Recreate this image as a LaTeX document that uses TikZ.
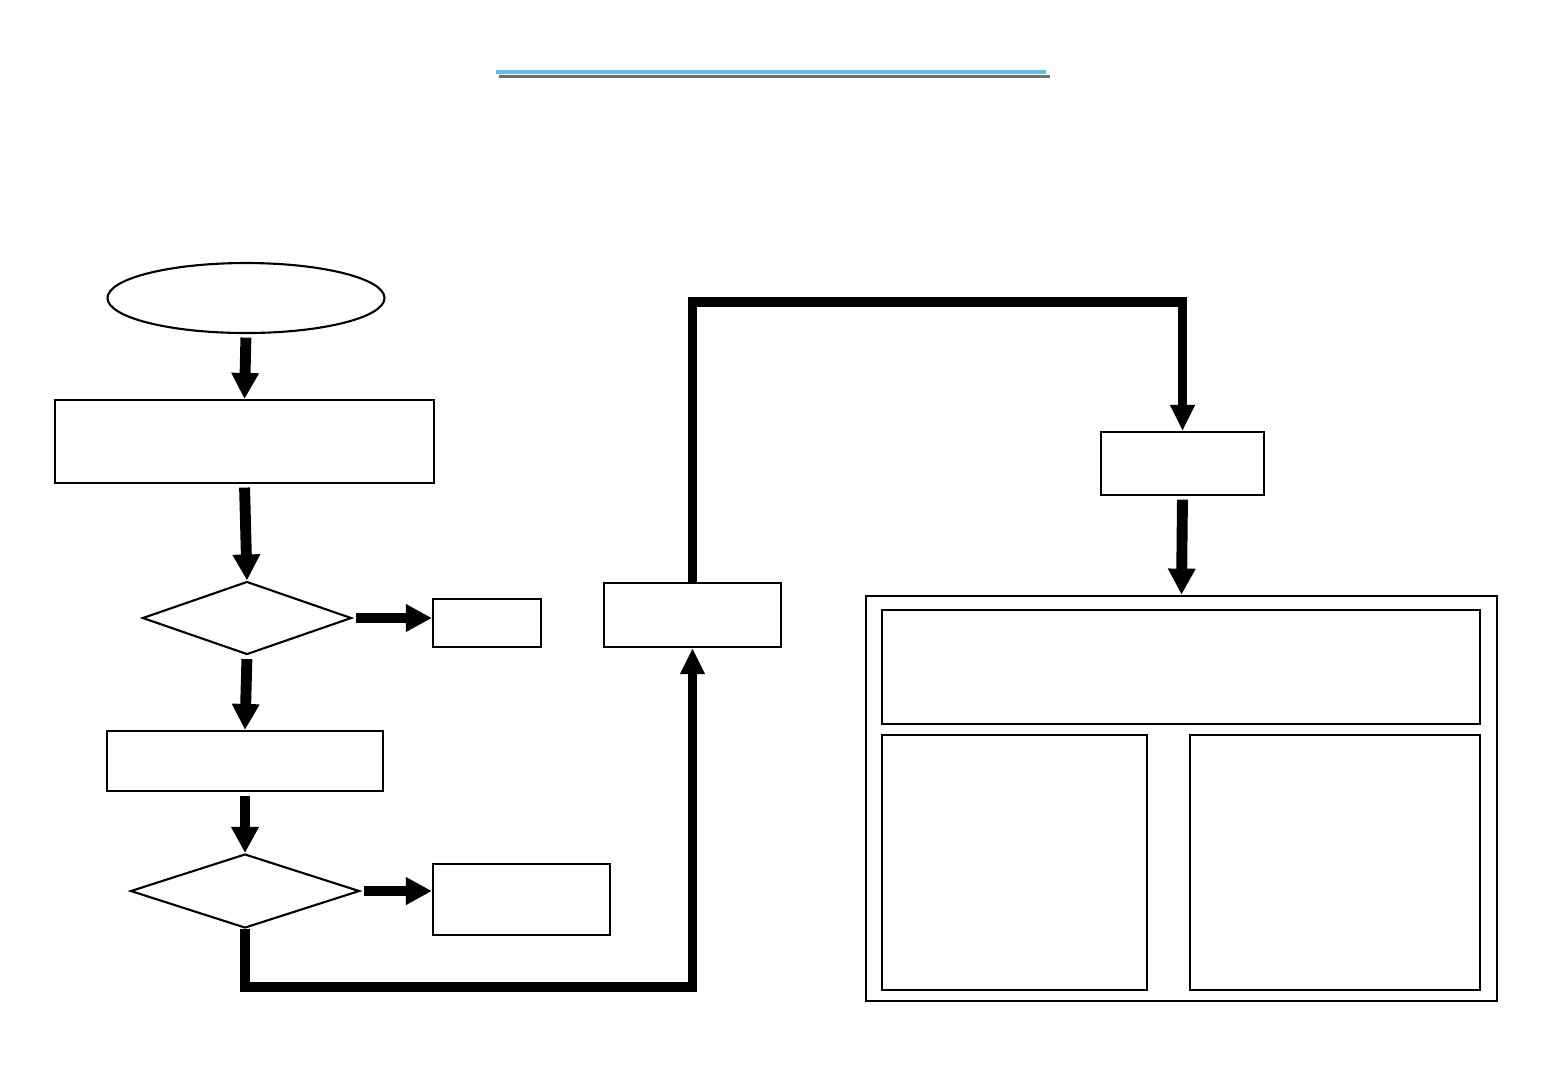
\documentclass[tikz,border=0pt]{standalone}
\usetikzlibrary{arrows.meta,shapes.geometric}
\tikzset{>=Stealth,box/.style={draw,line width=.6pt,inner sep=0pt},frame/.style={draw,line width=.8pt,inner sep=0pt},
decision/.style={diamond,draw,line width=.6pt,inner sep=0pt},flow/.style={line width=3.1pt,shorten <=1pt,-{Triangle[length=7.4pt,width=7.4pt]}},
route/.style={line width=2.8pt,-{Triangle[length=7.4pt,width=6.6pt]}}}
\definecolor{barblue}{RGB}{90,190,240}\definecolor{bargray}{RGB}{110,110,110}

\begin{document}
\begin{tikzpicture}[x=.1mm,y=-.1mm]
\useasboundingbox (0,0) rectangle (1560,1080);
\draw[bargray,line width=1.1pt] (499,76.5)--(1050,76.5);\draw[barblue,line width=1.1pt] (496,72)--(1046,72);
\node[ellipse,draw,line width=.6pt,inner sep=0pt,minimum width=27.7mm,minimum height=7mm] (start) at (246,298){};
\node[box,minimum width=37.9mm,minimum height=8.3mm] (read) at (244.5,441.5){};
\node[decision,minimum width=20.9mm,minimum height=7.3mm] (testa) at (247,618){};
\node[box,minimum width=10.8mm,minimum height=4.8mm] (outa) at (487,623){};
\node[box,minimum width=27.6mm,minimum height=6mm] (calc) at (245,761){};
\node[decision,minimum width=22.9mm,minimum height=7.4mm] (testb) at (245,891){};
\node[box,minimum width=17.7mm,minimum height=7.1mm] (outb) at (521.5,899.5){};
\node[box,minimum width=17.7mm,minimum height=6.4mm] (step) at (692.5,615){};
\node[box,minimum width=16.3mm,minimum height=6.3mm] (result) at (1182.5,463.5){};
% bloc final
\node[frame,minimum width=63.1mm,minimum height=40.5mm] (panel) at (1181.5,798.5){};
\node[box,minimum width=59.8mm,minimum height=11.4mm] (ptop) at (1181,667){};
\node[box,minimum width=26.5mm,minimum height=25.5mm] (pleft) at (1014.5,862.5){};
\node[box,minimum width=29mm,minimum height=25.5mm] (pright) at (1335,862.5){};
\draw[flow] (start.south)--(read.north);\draw[flow] (read.south)--(testa.north);
\draw[flow] (testa.east)--(testa.east-|outa.west);\draw[flow] (testa.south)--(calc.north);
\draw[flow] (calc.south)--(testb.north);\draw[flow] (testb.east)--(testb.east-|outb.west);
\draw[route] (testb.south)--++(0,58)-|(step.south);
\draw[route] (step.north)--++(0,-280)-|(result.north);
\draw[flow] (result.south)--(panel.north);
\end{tikzpicture}
\end{document}
